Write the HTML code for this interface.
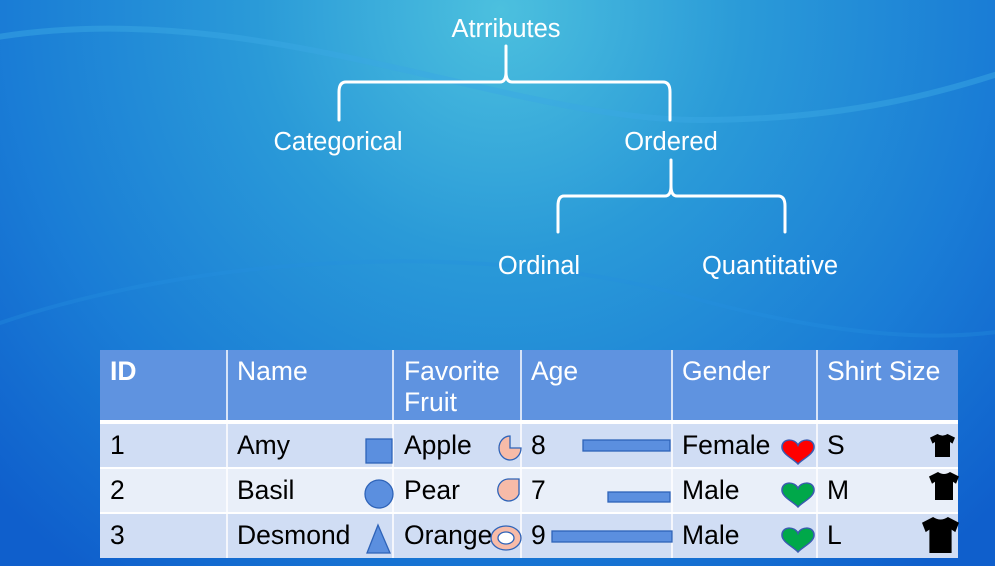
<!DOCTYPE html>
<html><head><meta charset="utf-8"><style>
html,body{margin:0;padding:0;width:995px;height:566px;overflow:hidden}
svg{display:block}
text{font-family:"Liberation Sans",Arial,sans-serif}
</style></head><body>
<svg width="995" height="566" viewBox="0 0 995 566" xmlns="http://www.w3.org/2000/svg">
<defs>
<radialGradient id="bg" cx="500" cy="10" r="700" gradientUnits="userSpaceOnUse">
<stop offset="0" stop-color="#4cc0de"/>
<stop offset="0.35" stop-color="#2a9ad8"/>
<stop offset="0.7" stop-color="#1a7dd6"/>
<stop offset="1" stop-color="#0f5fcc"/>
</radialGradient>
<path id="shirt" d="M0.3,0 Q0.5,0.14 0.7,0 L1,0.16 L0.9,0.42 L0.8,0.35 L0.8,1 L0.2,1 L0.2,0.35 L0.1,0.42 L0,0.16 Z"/>
<path id="heart" d="M0.5,0.28 C0.4,0 0,0 0,0.35 C0,0.62 0.35,0.8 0.5,1 C0.65,0.8 1,0.62 1,0.35 C1,0 0.6,0 0.5,0.28 Z"/>
</defs>
<rect width="995" height="566" fill="url(#bg)"/>
<path d="M-20,40 C250,-10 500,120 700,120 C850,120 950,90 1010,70" fill="none" stroke="#3aa8e4" stroke-width="6" opacity="0.5"/>
<path d="M-20,330 C200,250 500,240 700,300 C850,340 950,340 1010,330" fill="none" stroke="#2590e0" stroke-width="4" opacity="0.35"/>

<g fill="none" stroke="#fff" stroke-width="3" stroke-linecap="round" stroke-linejoin="round">
<path d="M506,46 L506,72 Q506,82 500,82 L346,82 Q339,82 339,92 L339,120"/>
<path d="M506,72 Q506,82 512,82 L663,82 Q670,82 670,92 L670,120"/>
<path d="M671,160 L671,186 Q671,196 665,196 L564,196 Q558,196 558,206 L558,232"/>
<path d="M671,186 Q671,196 677,196 L778,196 Q785,196 785,206 L785,232"/>
</g>
<g fill="#fff" font-size="25.5" text-anchor="middle">
<text x="506" y="37">Atrributes</text>
<text x="338" y="150">Categorical</text>
<text x="671" y="150">Ordered</text>
<text x="539" y="274">Ordinal</text>
<text x="770" y="274">Quantitative</text>
</g>

<!-- table -->
<rect x="100" y="350" width="858" height="208" fill="#fff"/>
<rect x="100" y="350" width="858" height="70" fill="#5f93e0"/>
<rect x="100" y="424" width="858" height="43" fill="#d0ddf4"/>
<rect x="100" y="469" width="858" height="43" fill="#e9eff9"/>
<rect x="100" y="514" width="858" height="44" fill="#d0ddf4"/>
<g stroke="#fff" stroke-width="1.5">
<line x1="227" y1="350" x2="227" y2="558"/>
<line x1="393" y1="350" x2="393" y2="558"/>
<line x1="521" y1="350" x2="521" y2="558"/>
<line x1="672" y1="350" x2="672" y2="558"/>
<line x1="817" y1="350" x2="817" y2="558"/>
</g>
<g fill="#fff" font-size="26.5">
<text x="110" y="380" font-weight="bold">ID</text>
<text x="237" y="380">Name</text>
<text x="404" y="380">Favorite</text>
<text x="404" y="411">Fruit</text>
<text x="531" y="380">Age</text>
<text x="682" y="380">Gender</text>
<text x="827" y="380">Shirt Size</text>
</g>
<g fill="#000" font-size="26.5">
<text x="110" y="454">1</text><text x="237" y="454">Amy</text><text x="404" y="454">Apple</text><text x="531" y="454">8</text><text x="682" y="454">Female</text><text x="827" y="454">S</text>
<text x="110" y="499">2</text><text x="237" y="499">Basil</text><text x="404" y="499">Pear</text><text x="531" y="499">7</text><text x="682" y="499">Male</text><text x="827" y="499">M</text>
<text x="110" y="544">3</text><text x="237" y="544">Desmond</text><text x="404" y="544">Orange</text><text x="531" y="544">9</text><text x="682" y="544">Male</text><text x="827" y="544">L</text>
</g>
<g fill="#5b8fdf" stroke="#2e63b8" stroke-width="1.3">
<rect x="366" y="439" width="26" height="24"/>
<circle cx="379" cy="494" r="14"/>
<path d="M378,525 L390,553 L367,553 Z"/>
<rect x="583" y="440" width="87" height="11"/>
<rect x="608" y="492" width="62" height="10"/>
<rect x="552" y="531" width="120" height="11"/>
</g>
<g fill="#f7bba8" stroke="#2e63b8" stroke-width="1.3">
<path d="M510,436 A11,12 0 1 0 521,448 L510,448 Z"/>
<path d="M519,479 L519,494 A11,11 0 1 1 508,479 Z"/>
<ellipse cx="506" cy="538" rx="15" ry="12"/>
<ellipse cx="506" cy="538" rx="8" ry="6" fill="#fff"/>
</g>
<use href="#heart" transform="translate(782,438) scale(32,26)" fill="#ff0000" stroke="#3a5bb0" stroke-width="0.05"/>
<use href="#heart" transform="translate(782,481) scale(32,26)" fill="#00a84a" stroke="#3a5bb0" stroke-width="0.05"/>
<use href="#heart" transform="translate(782,526) scale(32,26)" fill="#00a84a" stroke="#3a5bb0" stroke-width="0.05"/>
<use href="#shirt" transform="translate(930,434) scale(25,23)" fill="#000"/>
<use href="#shirt" transform="translate(929,472) scale(30,28)" fill="#000"/>
<use href="#shirt" transform="translate(922,517) scale(37,36)" fill="#000"/>
</svg>
</body></html>
